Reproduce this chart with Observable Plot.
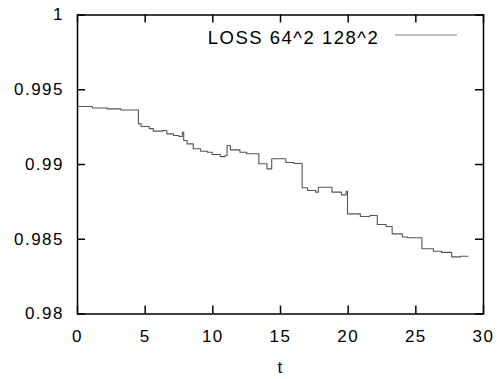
<!DOCTYPE html>
<html><head><meta charset="utf-8">
<script src="https://cdn.jsdelivr.net/npm/d3@7"></script>
<script src="https://cdn.jsdelivr.net/npm/@observablehq/plot@0.6"></script>
<style>body{margin:0;background:#fff} svg{display:block} svg text{letter-spacing:1.5px}</style>
</head><body><div id="chart"></div>
<script>
const tValues = [0, 1.1, 2.2, 3.2, 4.5, 4.7, 5.3, 5.6, 6.3, 6.6, 7.1, 7.5, 7.75, 7.85, 8.1, 8.55, 9.1, 9.6, 9.95, 10.55, 10.9, 11.05, 11.3, 12.0, 12.5, 13.4, 14.0, 14.35, 15.4, 16.0, 16.6, 17.0, 17.6, 17.8, 18.8, 19.5, 19.85, 19.95, 20.9, 21.6, 22.15, 22.8, 23.25, 24.0, 24.4, 25.45, 26.3, 26.9, 27.65, 28.3, 28.85];
const lossValues = [0.99388, 0.99378, 0.99372, 0.99365, 0.99272, 0.99254, 0.99240, 0.99223, 0.99227, 0.99205, 0.99194, 0.99187, 0.99216, 0.99161, 0.99138, 0.99105, 0.99089, 0.99082, 0.99067, 0.99053, 0.99060, 0.99127, 0.99098, 0.99082, 0.99072, 0.99005, 0.98971, 0.99038, 0.99013, 0.99007, 0.98844, 0.98826, 0.98815, 0.98848, 0.98815, 0.98797, 0.98821, 0.98670, 0.98652, 0.98659, 0.98599, 0.98585, 0.98536, 0.98515, 0.98510, 0.98436, 0.98420, 0.98412, 0.98382, 0.98386, 0.98386];
const xTicks = [0, 5, 10, 15, 20, 25, 30];
const yTicks = [0.98, 0.985, 0.99, 0.995, 1];
const yTickLabels = ["0.98", "0.985", "0.99", "0.995", "1"];
const seriesLabel = "LOSS 64^2 128^2";
const axisLabel = "t";

const W = 498, H = 379, mL = 77, mR = 15, mT = 14.5, mB = 65.5;
const innerW = W - mL - mR, innerH = H - mT - mB;
const tk = 8;
const data = tValues.map((t, i) => ({t, loss: lossValues[i]}));
const tickStyle = {stroke: "#000", strokeWidth: 1.5};

const chart = Plot.plot({
  width: W, height: H, marginLeft: mL, marginRight: mR, marginTop: mT, marginBottom: mB,
  style: {fontFamily: "Liberation Sans, Arial, sans-serif", fontSize: "17px", color: "#000", background: "#fff"},
  x: {domain: [0, 30]},
  y: {domain: [0.98, 1]},
  marks: [
    Plot.axisX({ticks: xTicks, tickSize: 0, tickPadding: 16, fontSize: 17, label: null}),
    Plot.axisY({ticks: yTicks, tickSize: 0, tickPadding: 13.5, fontSize: 17, label: null,
      tickFormat: d => yTickLabels[yTicks.indexOf(d)]}),
    Plot.tickX(xTicks, {x: d => d, insetTop: innerH - tk, ...tickStyle}),
    Plot.tickX(xTicks, {x: d => d, insetBottom: innerH - tk, ...tickStyle}),
    Plot.tickY(yTicks, {y: d => d, insetRight: innerW - tk, ...tickStyle}),
    Plot.tickY(yTicks, {y: d => d, insetLeft: innerW - tk, ...tickStyle}),
    Plot.line(data, {x: "t", y: "loss", curve: "step-after", stroke: "#555", strokeWidth: 1.1}),
    Plot.frame({stroke: "#000", strokeWidth: 1.5}),
    Plot.text([axisLabel], {text: d => d, frameAnchor: "bottom", dy: 53.5, lineAnchor: "middle", fontSize: 17}),
    Plot.text([seriesLabel], {text: d => d, frameAnchor: "top-left", dx: 130.3, dy: 28.8,
      textAnchor: "start", lineAnchor: "bottom", fontSize: 18.5})
  ]
});
// legend sample line
d3.select(chart).append("line")
  .attr("x1", W - mR - 88).attr("x2", W - mR - 26)
  .attr("y1", mT + 20.5).attr("y2", mT + 20.5)
  .attr("stroke", "#aaa").attr("stroke-width", 1.5);
document.getElementById("chart").appendChild(chart);
</script>
</body></html>
